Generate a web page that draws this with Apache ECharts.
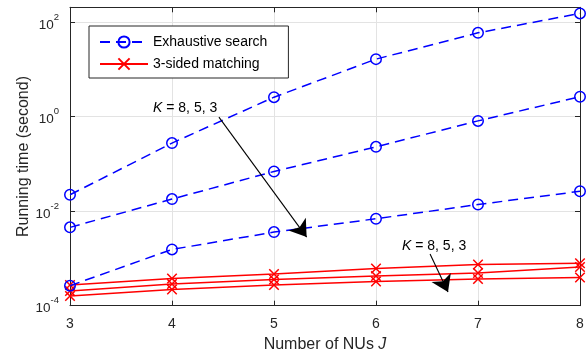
<!DOCTYPE html>
<html><head><meta charset="utf-8">
<script src="https://cdn.jsdelivr.net/npm/echarts@6/dist/echarts.min.js"></script>
<style>html,body{margin:0;padding:0;background:#fff}#c{width:588px;height:354px}</style>
</head><body><div id="c"></div>
<script>
// ---- data ----
const numNUs = [3, 4, 5, 6, 7, 8];
const kValues = [8, 5, 3];
const exhaustiveK8 = [0.0222, 0.275, 2.57, 16.4, 59, 152];
const exhaustiveK5 = [0.00454, 0.018, 0.069, 0.229, 0.81, 2.63];
const exhaustiveK3 = [0.000265, 0.00155, 0.0036, 0.0069, 0.0138, 0.0263];
const matchingK8 = [0.000274, 0.000376, 0.000468, 0.00061, 0.000743, 0.000787];
const matchingK5 = [0.000205, 0.000287, 0.000358, 0.000425, 0.000491, 0.000658];
const matchingK3 = [0.00016, 0.00022, 0.000274, 0.000325, 0.000367, 0.000395];
const xTicks = [3, 4, 5, 6, 7, 8];
const yTickExponents = [-4, -2, 0, 2];
const legendNames = ['Exhaustive search', '3-sided matching'];
// annotation anchors (data coords)
const arrow1 = [[4.46, 0.975], [5.32, 0.00283]];
const arrow2 = [[6.53, 0.00124], [6.706, 0.000195]];
const label1 = [3.814, 1.51];
const label2 = [6.255, 0.00183];

const FONT = '"Liberation Sans", Arial, Helvetica, sans-serif';
const TXT = '#262626';
const pair = (ys) => numNUs.map((x, i) => [x, ys[i]]);

const blueBase = {
  type: 'line', name: legendNames[0], xAxisIndex: 0, yAxisIndex: 0,
  symbol: 'circle', symbolSize: 10.5,
  lineStyle: { color: '#0000ff', width: 1.5, type: [10, 6] },
  itemStyle: { color: 'rgba(0,0,0,0)', borderColor: '#0000ff', borderWidth: 1.5 },
  emphasis: { disabled: true }, animation: false, z: 3
};
const redBase = {
  type: 'line', name: legendNames[1], xAxisIndex: 0, yAxisIndex: 0,
  symbol: 'path://M0,0L10,10M10,0L0,10', symbolSize: 9.5,
  lineStyle: { color: '#ff0000', width: 1.5 },
  itemStyle: { color: 'rgba(0,0,0,0)', borderColor: '#ff0000', borderWidth: 1.5 },
  emphasis: { disabled: true }, animation: false, z: 2
};
const arrowLine = (pts) => ({
  silent: true, animation: false,
  symbol: ['none', 'arrow'], symbolSize: 16,
  lineStyle: { color: '#000', width: 1.1, type: 'solid' },
  label: { show: false },
  data: [[{ coord: pts[0] }, { coord: pts[1] }]]
});

const series = [
  Object.assign({}, blueBase, { data: pair(exhaustiveK8), markLine: arrowLine(arrow1) }),
  Object.assign({}, blueBase, { data: pair(exhaustiveK5) }),
  Object.assign({}, blueBase, { data: pair(exhaustiveK3) }),
  Object.assign({}, redBase, { data: pair(matchingK8), markLine: arrowLine(arrow2) }),
  Object.assign({}, redBase, { data: pair(matchingK5) }),
  Object.assign({}, redBase, { data: pair(matchingK3) })
];

const yLabelFmt = (v) => {
  const e = Math.round(Math.log10(v));
  return '{b|10}{s|' + e + '}';
};
const yRich = {
  b: { fontSize: 13.5, fontFamily: FONT, color: TXT, lineHeight: 20, verticalAlign: 'bottom' },
  s: { fontSize: 9.5, fontFamily: FONT, color: TXT, verticalAlign: 'top' }
};

const chart = echarts.init(document.getElementById('c'), null, { renderer: 'canvas' });
const grid = { left: 70, right: 8, top: 7.3, bottom: 48.3, show: false,
  containLabel: false, outerBoundsMode: 'none' };
const yMin = Math.pow(10, yTickExponents[0]);
const yMax = 204.6;

chart.setOption({
  animation: false,
  grid: grid,
  legend: {
    data: legendNames, orient: 'vertical', left: 89, top: 26,
    itemWidth: 48, itemHeight: 14, itemGap: 8,
    padding: [9, 21, 7, 10],
    borderColor: TXT, borderWidth: 1, backgroundColor: '#fff',
    textStyle: { fontSize: 14, fontFamily: FONT, color: '#000' },
    selectedMode: false
  },
  xAxis: [{
    type: 'value', min: xTicks[0], max: xTicks[xTicks.length - 1], interval: 1,
    name: 'Number of NUs {i|J}', nameLocation: 'middle', nameGap: 31, nameMoveOverlap: false,
    nameTextStyle: { fontSize: 16, fontFamily: FONT, color: TXT,
      rich: { i: { fontSize: 16, fontFamily: FONT, fontStyle: 'italic', color: TXT } } },
    axisLine: { show: true, lineStyle: { color: TXT, width: 1 } },
    axisTick: { show: true, inside: true, length: 5, lineStyle: { color: TXT } },
    axisLabel: { fontSize: 14, fontFamily: FONT, color: TXT, margin: 11 },
    splitLine: { show: true, lineStyle: { color: '#e3e3e3', width: 1 } }
  }, {
    type: 'value', position: 'top', min: xTicks[0], max: xTicks[xTicks.length - 1], interval: 1,
    axisLine: { show: true, lineStyle: { color: TXT, width: 1 } },
    axisTick: { show: true, inside: true, length: 5, lineStyle: { color: TXT } },
    axisLabel: { show: false }, splitLine: { show: false }
  }],
  yAxis: [{
    type: 'log', logBase: 100, min: yMin, max: yMax, interval: 1,
    name: 'Running time (second)', nameLocation: 'middle', nameGap: 38, nameMoveOverlap: false,
    nameTextStyle: { fontSize: 16, fontFamily: FONT, color: TXT },
    axisLine: { show: true, lineStyle: { color: TXT, width: 1 } },
    axisTick: { show: true, inside: true, length: 5, lineStyle: { color: TXT } },
    axisLabel: { formatter: yLabelFmt, rich: yRich, margin: 11, showMaxLabel: false },
    splitLine: { show: true, lineStyle: { color: '#e3e3e3', width: 1 } },
    minorTick: { show: false }
  }, {
    type: 'log', logBase: 100, min: yMin, max: yMax, interval: 1, position: 'right',
    axisLine: { show: true, lineStyle: { color: TXT, width: 1 } },
    axisTick: { show: true, inside: true, length: 5, lineStyle: { color: TXT } },
    axisLabel: { show: false }, splitLine: { show: false }
  }],
  series: series
});

function annot(pt) {
  const p = chart.convertToPixel({ xAxisIndex: 0, yAxisIndex: 0 }, pt);
  return {
    type: 'text', x: p[0], y: p[1], silent: true, z: 10,
    style: {
      text: '{i|K} = ' + kValues.join(', '),
      fontSize: 14, fontFamily: FONT, fill: '#000',
      verticalAlign: 'middle', align: 'left',
      rich: { i: { fontSize: 14, fontFamily: FONT, fontStyle: 'italic', fill: '#000' } }
    }
  };
}
chart.setOption({ graphic: [annot(label1), annot(label2)] });
</script></body></html>
